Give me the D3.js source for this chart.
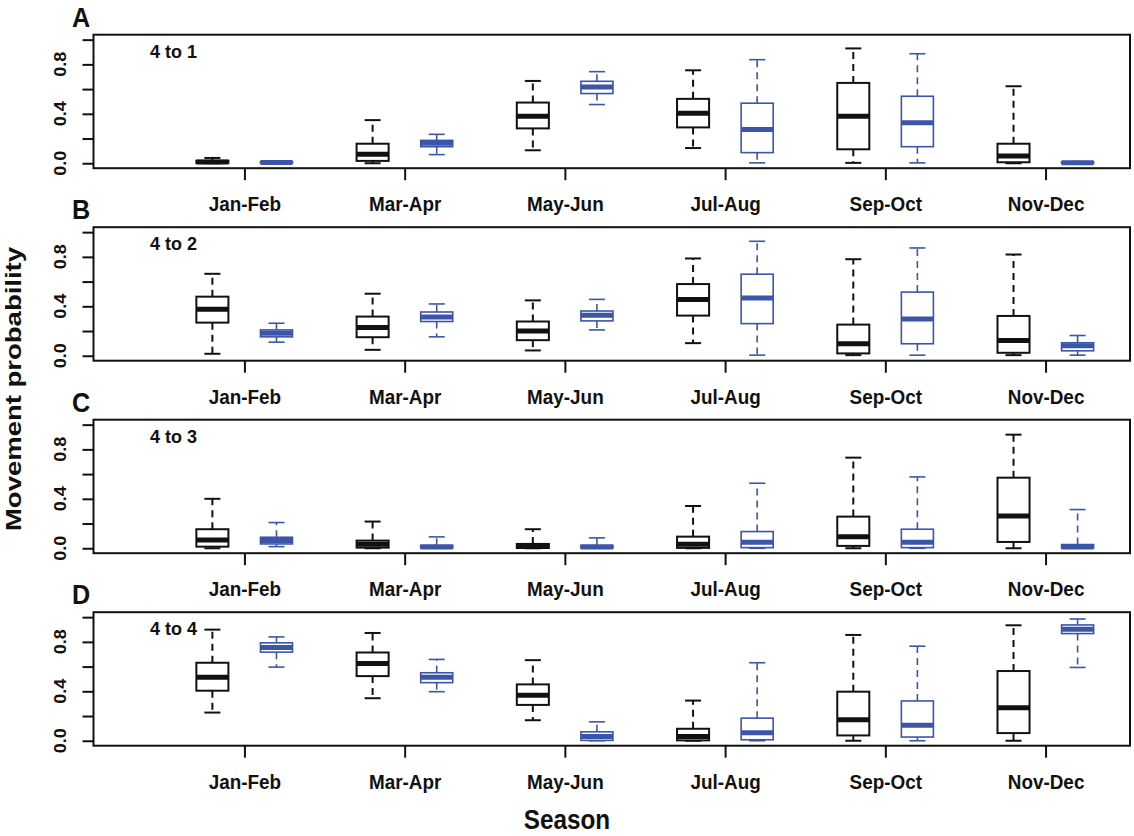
<!DOCTYPE html>
<html>
<head>
<meta charset="utf-8">
<script src="https://cdn.jsdelivr.net/npm/d3@7"></script>
<style>
  body { margin: 0; background: #fff; }
  text { font-family: "Liberation Sans", Arial, sans-serif; font-weight: bold; fill: #111; }
</style>
</head>
<body>
<script>
// seasons on the x axis
const seasons = ['Jan-Feb', 'Mar-Apr', 'May-Jun', 'Jul-Aug', 'Sep-Oct', 'Nov-Dec'];
const panelLetters = ['A', 'B', 'C', 'D'];
const panelTitles = ['4 to 1', '4 to 2', '4 to 3', '4 to 4'];
const yTicks = [0, 0.2, 0.4, 0.6, 0.8, 1.0];
const yTickLabels = ['0.0', '', '0.4', '', '0.8', ''];

// five-number summaries per season: [lower whisker, q1, median, q3, upper whisker]
const aBlack = [
  [0, 0.003, 0.01, 0.02, 0.043],
  [0, 0.019, 0.072, 0.158, 0.349],
  [0.105, 0.282, 0.381, 0.491, 0.666],
  [0.123, 0.29, 0.405, 0.521, 0.752],
  [0.003, 0.113, 0.381, 0.65, 0.929],
  [0, 0.008, 0.059, 0.158, 0.623]
];
const aBlue = [
  [0, 0.002, 0.006, 0.012, 0.015],
  [0.07, 0.134, 0.161, 0.185, 0.234],
  [0.475, 0.564, 0.617, 0.663, 0.741],
  [0.003, 0.086, 0.274, 0.486, 0.838],
  [0.003, 0.134, 0.328, 0.542, 0.886],
  [0, 0.001, 0.005, 0.01, 0.014]
];
const bBlack = [
  [0.016, 0.268, 0.376, 0.478, 0.663],
  [0.048, 0.15, 0.228, 0.317, 0.502],
  [0.043, 0.126, 0.201, 0.277, 0.448],
  [0.102, 0.325, 0.456, 0.58, 0.787],
  [0.005, 0.019, 0.097, 0.252, 0.781],
  [0.005, 0.024, 0.123, 0.322, 0.819]
];
const bBlue = [
  [0.11, 0.153, 0.183, 0.209, 0.263],
  [0.153, 0.277, 0.314, 0.354, 0.419],
  [0.209, 0.282, 0.328, 0.362, 0.456],
  [0.005, 0.26, 0.467, 0.66, 0.926],
  [0.005, 0.097, 0.298, 0.515, 0.872],
  [0.005, 0.04, 0.08, 0.105, 0.164]
];
const cBlack = [
  [0, 0.013, 0.067, 0.154, 0.4],
  [0, 0.005, 0.032, 0.062, 0.216],
  [0, 0.002, 0.019, 0.035, 0.154],
  [0, 0.003, 0.032, 0.094, 0.342],
  [0, 0.019, 0.094, 0.256, 0.733],
  [0, 0.051, 0.261, 0.571, 0.919]
];
const cBlue = [
  [0.013, 0.035, 0.062, 0.089, 0.208],
  [0, 0.002, 0.011, 0.024, 0.092],
  [0, 0.002, 0.011, 0.024, 0.084],
  [0, 0.005, 0.049, 0.135, 0.526],
  [0, 0.005, 0.049, 0.154, 0.577],
  [0, 0.002, 0.011, 0.03, 0.313]
];
const dBlack = [
  [0.228, 0.405, 0.513, 0.631, 0.899],
  [0.344, 0.523, 0.626, 0.714, 0.872],
  [0.166, 0.29, 0.368, 0.456, 0.652],
  [0, 0.003, 0.035, 0.097, 0.325],
  [0, 0.043, 0.169, 0.397, 0.856],
  [0, 0.062, 0.268, 0.564, 0.934]
];
const dBlue = [
  [0.596, 0.717, 0.754, 0.792, 0.84],
  [0.397, 0.47, 0.513, 0.55, 0.658],
  [0, 0.003, 0.035, 0.072, 0.153],
  [0, 0.008, 0.064, 0.183, 0.631],
  [0, 0.03, 0.126, 0.322, 0.765],
  [0.593, 0.867, 0.902, 0.937, 0.985]
];

const blackSeries = [aBlack, bBlack, cBlack, dBlack];
const blueSeries = [aBlue, bBlue, cBlue, dBlue];

// layout
const width = 1134, height = 836;
const frameLeft = 93.5, frameRight = 1130;
const panelTop0 = 34.7, panelStep = 192.5, panelH = 133.5;
const squeeze = 'scale(0.9,1)';
const blue = '#3b55a8';

const svg = d3.select('body').append('svg')
  .attr('width', width)
  .attr('height', height);

// group index on x, boxes sit at +-0.2 of the tick
const x = d3.scaleLinear().domain([-0.942, 5.527]).range([frameLeft, frameRight]);
const boxW = x(0.2) - x(0);

function drawBoxes(g, y, data, color, offset, lw) {
  const grp = g.selectAll(null)
    .data(data)
    .enter()
    .append('g')
    .attr('transform', (d, i) => `translate(${x(i + offset)},0)`);

  // whiskers (dashed)
  grp.append('line')
    .attr('y1', d => y(d[3])).attr('y2', d => y(d[4]))
    .attr('stroke', color).attr('stroke-width', lw).attr('stroke-dasharray', '7,5');
  grp.append('line')
    .attr('y1', d => y(d[1])).attr('y2', d => y(d[0]))
    .attr('stroke', color).attr('stroke-width', lw).attr('stroke-dasharray', '7,5');

  // caps
  grp.append('line')
    .attr('x1', -boxW / 4).attr('x2', boxW / 4)
    .attr('y1', d => y(d[4])).attr('y2', d => y(d[4]))
    .attr('stroke', color).attr('stroke-width', lw);
  grp.append('line')
    .attr('x1', -boxW / 4).attr('x2', boxW / 4)
    .attr('y1', d => y(d[0])).attr('y2', d => y(d[0]))
    .attr('stroke', color).attr('stroke-width', lw);

  // box
  grp.append('rect')
    .attr('x', -boxW / 2)
    .attr('width', boxW)
    .attr('y', d => y(d[3]))
    .attr('height', d => y(d[1]) - y(d[3]))
    .attr('fill', '#fff')
    .attr('stroke', color)
    .attr('stroke-width', lw);

  // median
  grp.append('line')
    .attr('x1', -boxW / 2).attr('x2', boxW / 2)
    .attr('y1', d => y(d[2])).attr('y2', d => y(d[2]))
    .attr('stroke', color).attr('stroke-width', 5);
}

panelLetters.forEach((letter, p) => {
  const top = panelTop0 + p * panelStep;
  const y = d3.scaleLinear().domain([-0.04, 1.04]).range([top + panelH, top]);
  const g = svg.append('g');

  // x axis: ticks and season labels
  const xAxis = g.append('g')
    .attr('transform', `translate(0,${top + panelH})`)
    .call(d3.axisBottom(x)
      .tickValues(d3.range(seasons.length))
      .tickFormat(i => seasons[i])
      .tickSize(12)
      .tickPadding(16));
  xAxis.select('.domain').remove();
  xAxis.selectAll('line').attr('stroke', '#111').attr('stroke-width', 2);
  xAxis.selectAll('text')
    .attr('transform', squeeze)
    .style('font-size', '21px')
    .style('font-family', '"Liberation Sans", Arial, sans-serif')
    .style('font-weight', 'bold')
    .attr('fill', '#111');

  // y axis: ticks only, labels rotated below
  const yAxis = g.append('g')
    .attr('transform', `translate(${frameLeft},0)`)
    .call(d3.axisLeft(y).tickValues(yTicks).tickSize(11).tickFormat(''));
  yAxis.select('.domain').remove();
  yAxis.selectAll('line').attr('stroke', '#111').attr('stroke-width', 2);

  g.selectAll(null)
    .data(yTicks)
    .enter()
    .append('text')
    .attr('transform', d => `translate(66,${y(d)}) ${squeeze} rotate(-90)`)
    .attr('text-anchor', 'middle')
    .style('font-size', '18px')
    .text((d, i) => yTickLabels[i]);

  drawBoxes(g, y, blackSeries[p], '#111', -0.2, 2);
  drawBoxes(g, y, blueSeries[p], blue, 0.2, 1.6);

  // frame
  g.append('rect')
    .attr('x', frameLeft)
    .attr('y', top)
    .attr('width', frameRight - frameLeft)
    .attr('height', panelH)
    .attr('fill', 'none')
    .attr('stroke', '#111')
    .attr('stroke-width', 2);

  // panel letter and transition label
  g.append('text')
    .attr('transform', `translate(72,${top - 8}) ${squeeze}`)
    .style('font-size', '28px')
    .text(letter);
  g.append('text')
    .attr('x', 150)
    .attr('y', top + 23)
    .style('font-size', '18px')
    .text(panelTitles[p]);
});

// axis titles
svg.append('text')
  .attr('transform', 'translate(21,389) scale(0.8,1) rotate(-90)')
  .attr('text-anchor', 'middle')
  .style('font-size', '27.5px')
  .text('Movement probability');

svg.append('text')
  .attr('transform', `translate(567,829) ${squeeze}`)
  .attr('text-anchor', 'middle')
  .style('font-size', '27px')
  .text('Season');
</script>
</body>
</html>
